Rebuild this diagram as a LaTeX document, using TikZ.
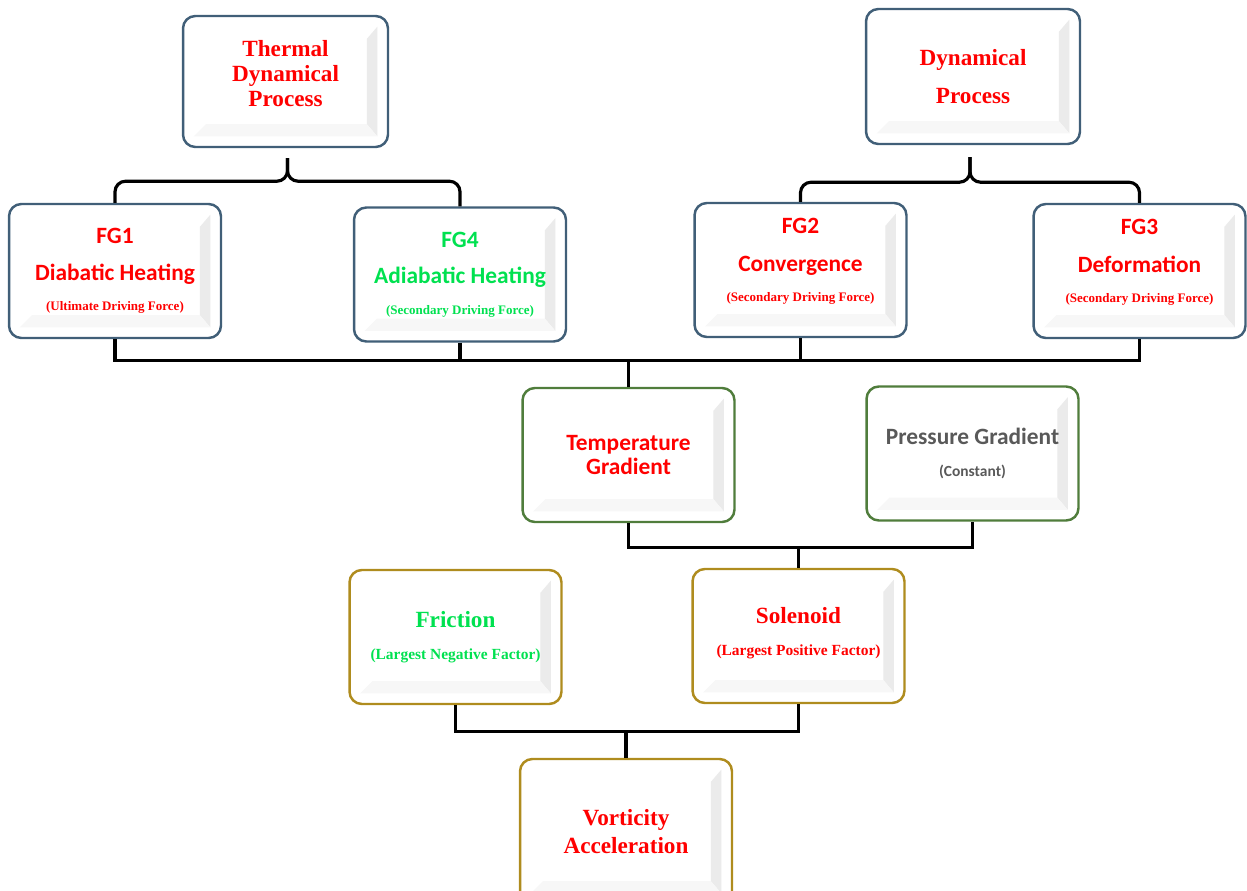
\documentclass[tikz,border=0pt]{standalone}
\usepackage{fontspec}
\setmainfont{Liberation Serif}
\setsansfont{Carlito}
\usepackage{tikz}
\usetikzlibrary{calc}
\usetikzlibrary{positioning}

\definecolor{txtred}{RGB}{255,0,0}
\definecolor{txtgreen}{RGB}{0,225,80}
\definecolor{txtgray}{RGB}{89,89,89}
\definecolor{edgeblue}{RGB}{65,95,120}
\definecolor{edgegreen}{RGB}{80,125,60}
\definecolor{edgegold}{RGB}{175,140,30}

\newcommand{\serifbig}{\rmfamily\bfseries\fontsize{13.2}{14.2}\selectfont}
\newcommand{\serifsmall}{\rmfamily\bfseries\fontsize{7.4}{14.2}\selectfont}
\newcommand{\serifmid}{\rmfamily\bfseries\fontsize{8.8}{14.2}\selectfont}
\newcommand{\sansbig}{\sffamily\bfseries\fontsize{13.3}{14.2}\selectfont}
\newcommand{\sanssmall}{\sffamily\bfseries\fontsize{8.8}{14.2}\selectfont}

\tikzstyle{block} = [draw, rectangle, rounded corners = 7pt, line width = 1.4pt, fill = white,
	minimum width = 4.24cm, minimum height = 2.68cm, align = center,
	font = \fontsize{10}{14.2}\selectfont,
	path picture = {
		\fill[black!8, sharp corners] ([xshift=-6pt,yshift=-6pt]path picture bounding box.north east)
		-- ([xshift=-12pt,yshift=-13pt]path picture bounding box.north east)
		-- ([xshift=-12pt,yshift=13pt]path picture bounding box.south east)
		-- ([xshift=-6pt,yshift=6pt]path picture bounding box.south east) -- cycle;
		\fill[black!3, sharp corners] ([xshift=6pt,yshift=6pt]path picture bounding box.south west)
		-- ([xshift=13pt,yshift=13pt]path picture bounding box.south west)
		-- ([xshift=-12pt,yshift=13pt]path picture bounding box.south east)
		-- ([xshift=-6pt,yshift=6pt]path picture bounding box.south east) -- cycle;
	}]
\tikzstyle{upper} = [block, draw = edgeblue]
\tikzstyle{middle} = [block, draw = edgegreen]
\tikzstyle{lower} = [block, draw = edgegold]
\tikzstyle{link} = [line width = 1.8pt]

\begin{document}
\begin{tikzpicture}[x = 0.02cm, y = -0.02cm]
		
			\useasboundingbox (0,0) rectangle (1247,891);
		
			% processes
			\node[upper, minimum width = 4.1cm, minimum height = 2.62cm, text depth = 9pt] (thermal) at (285.5,81.5)
			{\serifbig\color{txtred} Thermal\\ \serifbig\color{txtred} Dynamical\\ \serifbig\color{txtred} Process};
			\node[upper, minimum width = 4.28cm, minimum height = 2.7cm] (dynamical) at (973,76.5)
			{\serifbig\color{txtred} Dynamical\\[7.8pt] \serifbig\color{txtred} Process};
			
			% forcing groups
			\node[upper] (fgone) at (115,271)
			{\sansbig\color{txtred} FG1\\[6.5pt] \sansbig\color{txtred} Diabatic Heating\\[3.2pt] \serifsmall\color{txtred} (Ultimate Driving Force)};
			\node[upper] (fgfour) at (460,274.5)
			{\sansbig\color{txtgreen} FG4\\[6.5pt] \sansbig\color{txtgreen} Adiabatic Heating\\[3.2pt] \serifsmall\color{txtgreen} (Secondary Driving Force)};
			\node[upper, text depth = 11.8pt] (fgtwo) at (800.5,270)
			{\sansbig\color{txtred} FG2\\[7.8pt] \sansbig\color{txtred} Convergence\\[2.8pt] \serifsmall\color{txtred} (Secondary Driving Force)};
			\node[upper, text depth = 11.8pt] (fgthree) at (1139.5,271)
			{\sansbig\color{txtred} FG3\\[7.8pt] \sansbig\color{txtred} Deformation\\[2.8pt] \serifsmall\color{txtred} (Secondary Driving Force)};
			
			% gradients
			\node[middle] (tempgrad) at (628.5,455)
			{\sansbig\color{txtred} Temperature\\ \sansbig\color{txtred} Gradient};
			\node[middle] (presgrad) at (972.5,453.5)
			{\sansbig\color{txtgray} Pressure Gradient\\[3.8pt] \sanssmall\color{txtgray} (Constant)};
			
			% factors
			\node[lower] (friction) at (455.5,637)
			{\serifbig\color{txtgreen} Friction\\[3.8pt] \serifmid\color{txtgreen} (Largest Negative Factor)};
			\node[lower, text depth = 5.3pt] (solenoid) at (798.5,636)
			{\serifbig\color{txtred} Solenoid\\[3.8pt] \serifmid\color{txtred} (Largest Positive Factor)};
			
			% result
			\node[lower, minimum height = 2.9cm] (vorticity) at (626,831.5)
			{\serifbig\color{txtred} Vorticity\\[1.8pt] \serifbig\color{txtred} Acceleration};
			
			% Braces
			\coordinate (tpeak) at ($(thermal.south) + (2,10)$);
			\coordinate (dpeak) at ($(dynamical.south) + (-3,12)$);
			\draw[link, rounded corners = 6pt] (fgone.north) |- ($(tpeak) + (0,23)$) -- (tpeak);
			\draw[link, rounded corners = 6pt] (fgfour.north) |- ($(tpeak) + (0,23)$) -- (tpeak);
			\draw[link, rounded corners = 6pt] (fgtwo.north) |- ($(dpeak) + (0,25)$) -- (dpeak);
			\draw[link, rounded corners = 6pt] (fgthree.north) |- ($(dpeak) + (0,25)$) -- (dpeak);
			
			% Connect all nodes defined above
			\coordinate (busa) at ($(tempgrad.north) + (0,-26)$);
			\draw[link] (fgone.south) |- (busa) -| (fgthree.south);
			\draw[link] (fgfour.south) -- (fgfour.south |- busa);
			\draw[link] (fgtwo.south) -- (fgtwo.south |- busa);
			\draw[link] (busa) -- (tempgrad.north);
			
			\coordinate (busb) at ($(solenoid.north) + (0,-20)$);
			\draw[link] (tempgrad.south) |- (busb) -| (presgrad.south);
			\draw[link] (busb) -- (solenoid.north);
			
			\coordinate (busc) at ($(vorticity.north) + (0,-26)$);
			\draw[link] (friction.south) |- (busc) -| (solenoid.south);
			\draw[link] (busc) -- (vorticity.north);
		
\end{tikzpicture}
\end{document}
